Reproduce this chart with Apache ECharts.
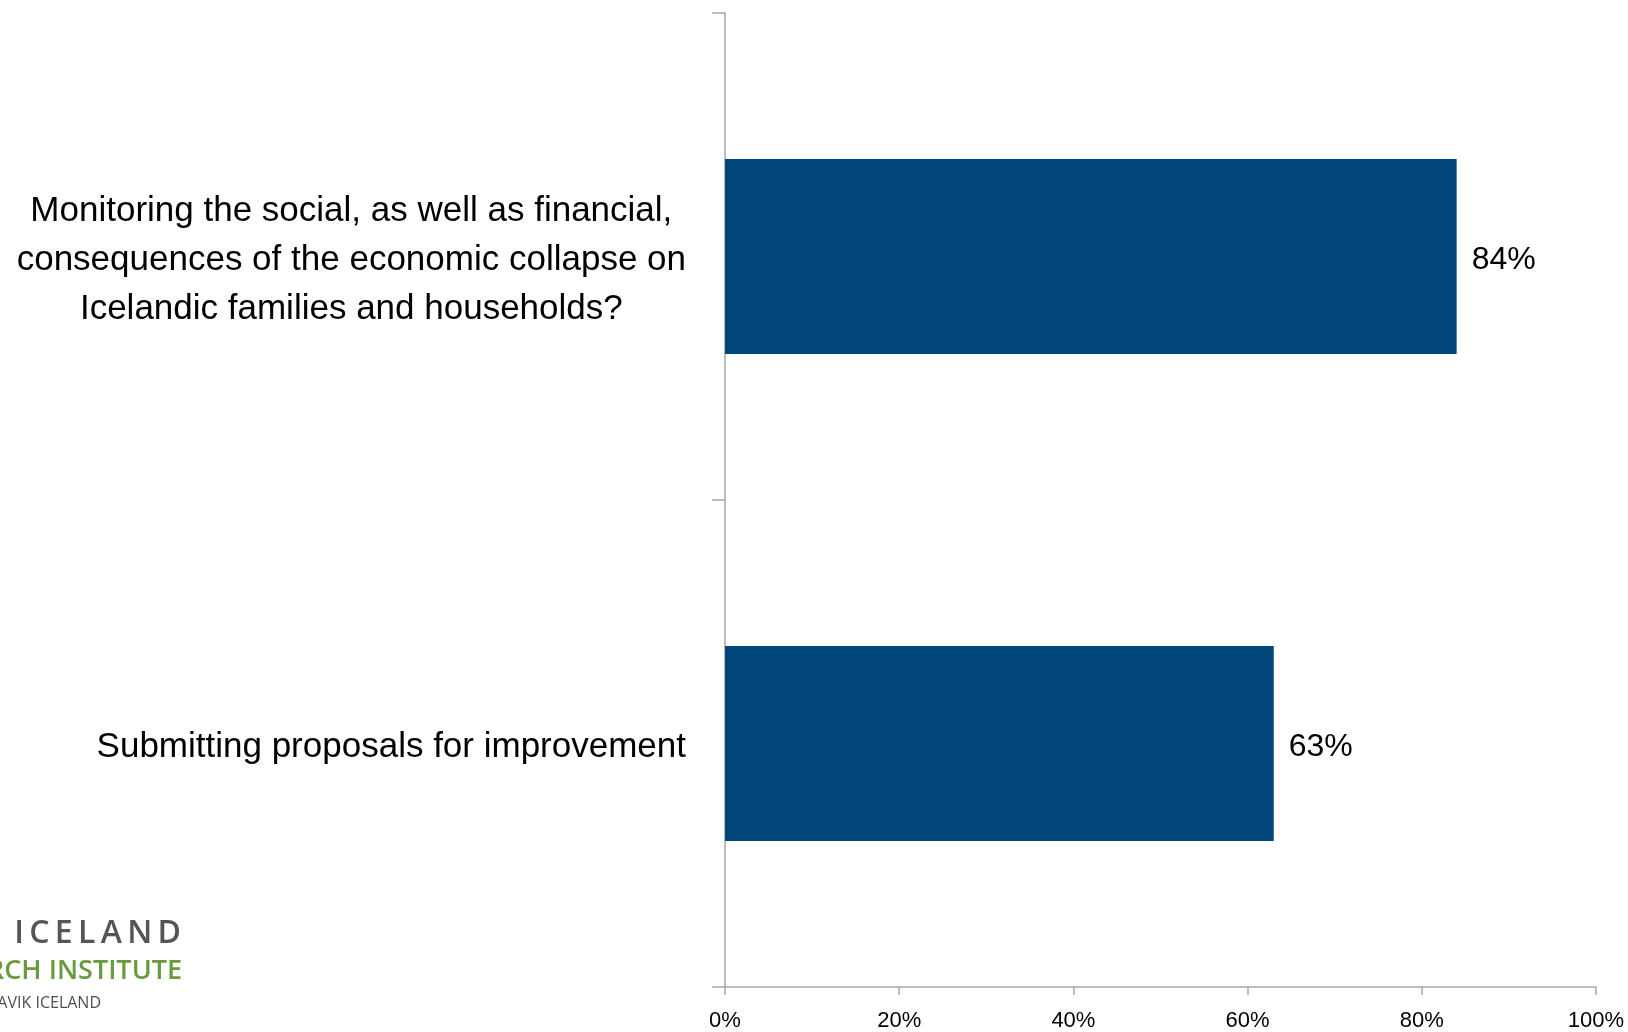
<!DOCTYPE html>
<html>
<head>
<meta charset="utf-8">
<style>
  html, body { margin: 0; padding: 0; background: #ffffff; }
  #chart { width: 1628px; height: 1032px; }
</style>
<script src="https://cdn.jsdelivr.net/npm/echarts@6/dist/echarts.min.js"></script>
</head>
<body>
<div id="chart"></div>
<script>
// Survey items (one line per entry in the label) and share of respondents
const categories = [
  ['Monitoring the social, as well as financial,',
   'consequences of the economic collapse on',
   'Icelandic families and households?'],
  ['Submitting proposals for improvement']
];
const values = [84, 63];
const axisMin = 0;
const axisMax = 100;
const axisStep = 20;

const sans = '"Liberation Sans Narrow", "Arial Narrow", "Liberation Sans", Arial, sans-serif';
const axisGray = '#a6a6a6';
// spread letters of the logo wordmark with thin spaces
const spaced = (s) => s.split('').join('\u2009');

const chart = echarts.init(document.getElementById('chart'), null, { renderer: 'canvas' });

chart.setOption({
  backgroundColor: '#ffffff',
  animation: false,
  grid: { left: 725, right: 32, top: 13, bottom: 45, containLabel: false },
  xAxis: {
    type: 'value',
    min: axisMin,
    max: axisMax,
    interval: axisStep,
    axisLine: { show: true, lineStyle: { color: axisGray, width: 1.5 } },
    axisTick: { show: true, length: 8, lineStyle: { color: axisGray, width: 1.5 } },
    splitLine: { show: false },
    axisLabel: {
      formatter: '{value}%',
      margin: 23,
      fontFamily: sans,
      fontSize: 22,
      color: '#000000'
    }
  },
  yAxis: {
    type: 'category',
    inverse: true,
    data: categories.map(lines => lines.join('\n')),
    axisLine: { show: true, lineStyle: { color: axisGray, width: 1.5 } },
    axisTick: { show: true, length: 13, lineStyle: { color: axisGray, width: 1.5 } },
    axisLabel: {
      margin: 39,
      padding: [7, 0, 0, 0],
      fontFamily: sans,
      fontSize: 35,
      lineHeight: 49,
      color: '#000000',
      formatter: (v) => v.split('\n').map(l => '{c|' + l + '}').join('\n'),
      rich: {
        c: { align: 'center', fontFamily: sans, fontSize: 35, lineHeight: 49, color: '#000000' }
      }
    }
  },
  series: [{
    type: 'bar',
    data: values,
    barWidth: '40%',
    itemStyle: { color: '#02457a' },
    label: {
      show: true,
      position: 'right',
      distance: 15,
      offset: [0, 4],
      formatter: '{c}%',
      fontFamily: sans,
      fontSize: 32,
      color: '#000000'
    }
  }],
  graphic: [
    {
      type: 'text', x: 181, y: 934,
      style: {
        text: spaced('UNIVERSITY OF ICELAND'),
        align: 'right', verticalAlign: 'middle',
        font: '600 32px "Open Sans", sans-serif',
        fill: '#555555'
      }
    },
    {
      type: 'text', x: 182, y: 971,
      style: {
        text: 'SOCIAL SCIENCE RESEARCH INSTITUTE',
        align: 'right', verticalAlign: 'middle',
        font: '600 27px "Open Sans", sans-serif',
        fill: '#6b9a3c'
      }
    },
    {
      type: 'text', x: 101, y: 1003,
      style: {
        text: '101 REYKJAVIK ICELAND',
        align: 'right', verticalAlign: 'middle',
        font: '16px "Open Sans", sans-serif',
        fill: '#4f4f4f'
      }
    }
  ]
});
</script>
</body>
</html>
